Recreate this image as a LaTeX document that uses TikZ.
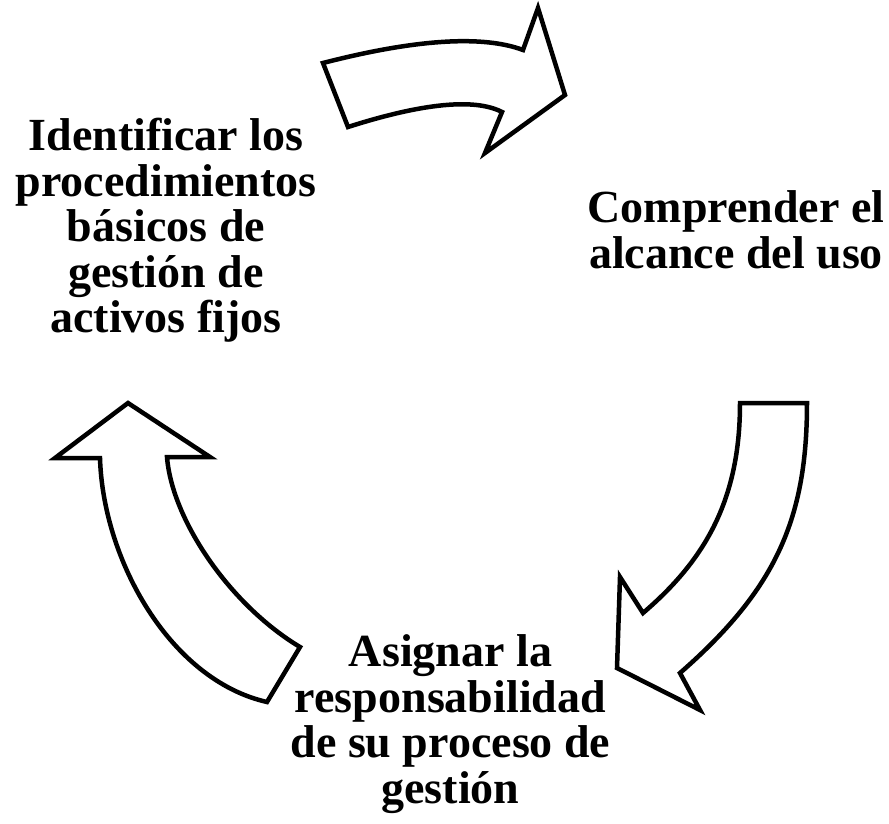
\documentclass[tikz,border=0pt]{standalone}
\usepackage{fontspec}
\setmainfont{Liberation Serif}
\begin{document}
\begin{tikzpicture}[x=1pt,y=-1pt,
  cyclearrow/.style={draw=black,line width=4.5pt,fill=white,line join=miter},
  label/.style={font=\bfseries\fontsize{46}{45.5}\selectfont,align=center,inner sep=0pt,text=black}]
\useasboundingbox (0,0) rectangle (889,823);
% top arrow
\draw[cyclearrow] (323,63) .. controls (416,39) and (483,35) .. (523,50)
  -- (538,8) -- (565,95) -- (485,153) -- (502,112)
  .. controls (475,98) and (423,103) .. (348,127) -- cycle;
% right arrow
\draw[cyclearrow] (740,403) -- (807,403)
  .. controls (807,520) and (775,590) .. (680,673)
  -- (700,710) -- (617,668) -- (620,577) -- (643,613)
  .. controls (705,560) and (740,500) .. (740,403) -- cycle;
% left arrow
\draw[cyclearrow] (128,403) -- (210,457) -- (167,457)
  .. controls (172,520) and (230,605) .. (300,647)
  -- (267,702)
  .. controls (170,680) and (103,560) .. (100,458)
  -- (55,458) -- cycle;
\node[label] (ident) at (166,230.5) {Identificar los\\procedimientos\\básicos de\\gestión de\\activos fijos};
\node[label] (compr) at (736,230) {Comprender el\\alcance del uso};
\node[label] (asig) at (450.5,724) {Asignar la\\responsabilidad\\de su proceso de\\gestión};
\end{tikzpicture}
\end{document}
